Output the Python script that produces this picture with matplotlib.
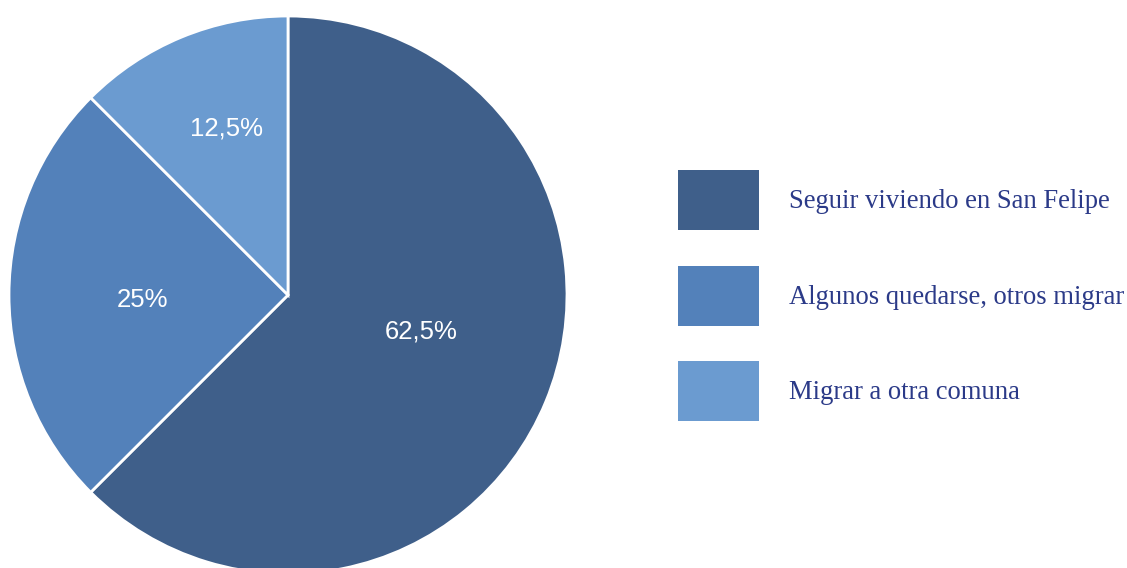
import matplotlib
matplotlib.use("Agg")
import matplotlib.pyplot as plt
from matplotlib.patches import Rectangle

categories = ["Seguir viviendo en San Felipe", "Algunos quedarse, otros migrar", "Migrar a otra comuna"]
values = [62.5, 25, 12.5]
pct_labels = ["62,5%", "25%", "12,5%"]
colors = ["#3F5F8A", "#5381BA", "#6B9BD0"]

W, H = 1127, 568
fig = plt.figure(figsize=(W / 100, H / 100), dpi=100)
ax = fig.add_axes([0, 0, 1, 1])

cx, cy, r = 288, H - 295, 279
wedges, _ = ax.pie(values, colors=colors, startangle=90, counterclock=False,
                   center=(cx, cy), radius=r,
                   wedgeprops=dict(edgecolor="white", linewidth=2))

# percentage labels (positions relative to centre, as fractions of radius)
label_offsets = [(0.478, -0.132), (-0.52, -0.018), (-0.219, 0.596)]
for (dx, dy), t in zip(label_offsets, pct_labels):
    ax.text(cx + dx * r, cy + dy * r, t, color="white", fontsize=18.5,
            family="Liberation Sans", ha="center", va="center")

# legend
box_x, box_w, box_h = 678, 81, 60
row_y = [200, 295.5, 391]
for yc, lab, col in zip(row_y, categories, colors):
    yy = H - yc
    ax.add_patch(Rectangle((box_x, yy - box_h / 2), box_w, box_h, facecolor=col, edgecolor="none"))
    ax.text(789, yy - 1.5, lab, color="#2B3A88", fontsize=19.2, family="Liberation Serif",
            ha="left", va="center")

ax.set_xlim(0, W)
ax.set_ylim(0, H)
ax.set_aspect("auto")
ax.axis("off")
fig.savefig("out.png", dpi=100, facecolor="white")
